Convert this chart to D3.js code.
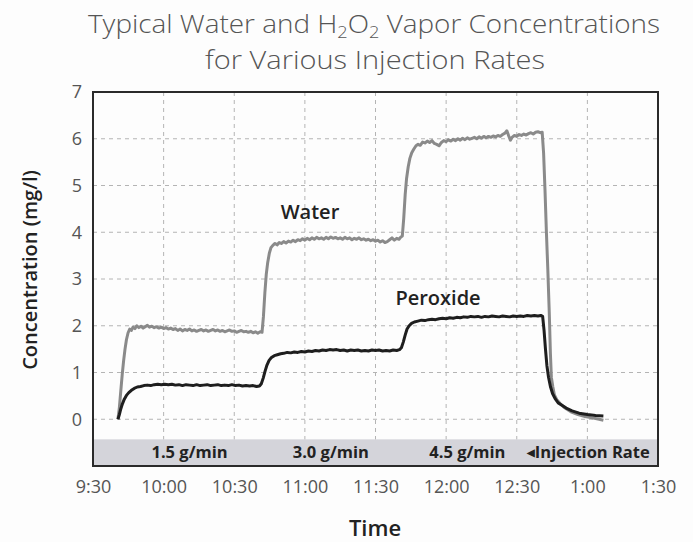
<!DOCTYPE html>
<html>
<head>
<meta charset="utf-8">
<script src="https://cdn.jsdelivr.net/npm/d3@7"></script>
<style>
  body { margin: 0; background: #fdfdfd; }
  svg { display: block; font-family: "Open Sans", sans-serif; }
</style>
</head>
<body>
<svg id="chart" width="693" height="542"></svg>
<script>
// time is minutes after 9:30
var tickLabels = ["9:30", "10:00", "10:30", "11:00", "11:30", "12:00", "12:30", "1:00", "1:30"];
var yTicks = [0, 1, 2, 3, 4, 5, 6, 7];

var waterMin = [10.6, 11.2, 11.8, 12.4, 13.0, 13.6, 14.2, 14.9, 15.6, 16.3, 17.0, 17.8, 18.6, 19.5, 20.4, 21.3, 22.2, 23.1, 24, 25, 26, 27, 28, 29, 30, 31, 32, 33, 34, 35, 36, 37, 38, 39, 40, 41, 42, 43, 44, 45, 46, 47, 48, 49, 50, 51, 52, 53, 54, 55, 56, 57, 58, 59, 60, 61, 62, 63, 64, 65, 66, 67, 68, 69, 70, 71, 71.8,
  72.4, 73.0, 73.6, 74.2, 74.9, 75.6, 76.4, 77.3, 78.2, 79.1, 80, 81, 82, 83, 84, 85, 86, 87, 88, 89, 90, 91, 92, 93, 94, 95, 96, 97, 98, 99, 100, 101, 102, 103, 104, 105, 106, 107, 108, 109, 110, 111, 112, 113, 114, 115, 116, 117, 118, 119, 120, 121, 122, 123, 124, 125, 126, 127, 128, 129, 130, 130.8, 131.4,
  132.0, 132.6, 133.2, 133.9, 134.6, 135.4, 136.3, 137.2, 138.1, 139, 140, 141, 142, 143, 144, 145, 146, 147, 148, 149, 150, 151, 152, 153, 154, 155, 156, 157, 158, 159, 160, 161, 162, 163, 164, 165, 166, 167, 168, 169, 170, 171, 172, 173, 174, 175, 175.8, 176.6, 177.3, 178, 179, 180, 181, 182, 183, 184, 185, 186, 187, 188, 189, 190, 190.8,
  191.4, 192.0, 192.6, 193.2, 193.8, 194.3, 194.7, 195.3, 196.0, 197.0, 198.5, 200.5, 203, 206, 209, 212, 215, 216.8];
var waterVal = [0, 0.25, 0.6, 0.95, 1.25, 1.5, 1.7, 1.85, 1.93, 1.9, 1.97, 1.94, 2.0, 1.96, 1.99, 1.95, 1.98, 2.01, 1.97, 1.99, 1.96, 1.98, 1.95, 1.97, 1.94, 1.96, 1.93, 1.95, 1.92, 1.94, 1.9, 1.93, 1.89, 1.92, 1.9, 1.93, 1.89, 1.91, 1.88, 1.9, 1.92, 1.89, 1.91, 1.88, 1.9, 1.92, 1.89, 1.91, 1.88, 1.9, 1.87, 1.89, 1.91, 1.88, 1.89, 1.86, 1.88, 1.9, 1.87, 1.88, 1.86, 1.88, 1.85, 1.87, 1.84, 1.87, 1.86,
  2.2, 2.7, 3.1, 3.35, 3.55, 3.67, 3.72, 3.76, 3.73, 3.78, 3.76, 3.8, 3.77, 3.81, 3.79, 3.83, 3.8, 3.84, 3.82, 3.86, 3.83, 3.87, 3.84, 3.88, 3.85, 3.89, 3.86, 3.88, 3.85, 3.89, 3.86, 3.9, 3.87, 3.89, 3.86, 3.88, 3.85, 3.89, 3.86, 3.88, 3.84, 3.87, 3.85, 3.88, 3.84, 3.86, 3.83, 3.85, 3.82, 3.84, 3.81, 3.83, 3.79, 3.82, 3.78, 3.8, 3.84, 3.88, 3.83, 3.87, 3.85, 3.9, 3.92,
  4.3, 4.8, 5.15, 5.4, 5.58, 5.7, 5.78, 5.85, 5.88, 5.86, 5.93, 5.91, 5.95, 5.92, 5.96, 5.9, 5.88, 5.85, 5.92, 5.96, 5.94, 5.98, 5.95, 5.99, 5.96, 6.0, 5.97, 6.01, 5.98, 6.02, 5.99, 6.01, 6.03, 6.0, 6.04, 6.01, 6.05, 6.02, 6.05, 6.03, 6.06, 6.04, 6.07, 6.05, 6.09, 6.12, 6.17, 6.06, 5.97, 6.03, 6.07, 6.05, 6.09, 6.07, 6.1, 6.08, 6.11, 6.13, 6.1, 6.14, 6.15, 6.13, 6.14,
  5.7, 4.9, 4.0, 3.2, 2.3, 1.4, 0.9, 0.7, 0.52, 0.42, 0.33, 0.24, 0.16, 0.1, 0.06, 0.03, 0.0, -0.02];

var peroxideMin = [10.6, 11.2, 11.8, 12.5, 13.3, 14.2, 15.2, 16.3, 17.5, 18.8, 20.2, 21.6, 23, 24.5, 26, 27.5, 29, 30.5, 32, 33.5, 35, 36.5, 38, 39.5, 41, 42.5, 44, 45.5, 47, 48.5, 50, 51.5, 53, 54.5, 56, 57.5, 59, 60.5, 62, 63.5, 65, 66.5, 68, 69.5, 70.7,
  71.5, 72.3, 73.1, 73.9, 74.8, 75.8, 77, 78.3, 79.7, 81, 82.5, 84, 85.5, 87, 88.5, 90, 91.5, 93, 94.5, 96, 97.5, 99, 100.5, 102, 103.5, 105, 106.5, 108, 109.5, 111, 112.5, 114, 115.5, 117, 118.5, 120, 121.5, 123, 124.5, 126, 127.5, 129, 130.2,
  131, 131.8, 132.6, 133.4, 134.3, 135.3, 136.5, 138, 139.5, 141, 142.5, 144, 145.5, 147, 148.5, 150, 151.5, 153, 154.5, 156, 157.5, 159, 160.5, 162, 163.5, 165, 166.5, 168, 169.5, 171, 172.5, 174, 175.5, 177, 178.5, 180, 181.5, 183, 184.5, 186, 187.5, 189, 190.2, 191.0,
  191.6, 192.2, 192.8, 193.5, 194.3, 195.2, 196.3, 197.6, 199.2, 201, 203.5, 206.5, 210, 213.5, 216.8];
var peroxideVal = [0, 0.1, 0.22, 0.33, 0.43, 0.51, 0.57, 0.62, 0.66, 0.69, 0.7, 0.72, 0.73, 0.72, 0.74, 0.75, 0.74, 0.75, 0.74, 0.75, 0.73, 0.74, 0.72, 0.74, 0.73, 0.72, 0.74, 0.72, 0.73, 0.74, 0.72, 0.73, 0.74, 0.72, 0.73, 0.72, 0.74, 0.72, 0.73, 0.71, 0.72, 0.71, 0.72, 0.7, 0.71,
  0.76, 0.88, 1.03, 1.16, 1.26, 1.32, 1.36, 1.38, 1.4, 1.41, 1.43, 1.42, 1.44, 1.43, 1.45, 1.44, 1.46, 1.45, 1.47, 1.46, 1.48, 1.47, 1.49, 1.48, 1.49, 1.47, 1.48, 1.46, 1.48, 1.47, 1.48, 1.46, 1.47, 1.46, 1.48, 1.47, 1.48, 1.46, 1.47, 1.46, 1.48, 1.47, 1.49,
  1.53, 1.65, 1.8, 1.93, 2.0, 2.05, 2.08, 2.1, 2.12, 2.11, 2.13, 2.14, 2.13, 2.15, 2.16, 2.15, 2.17, 2.16, 2.18, 2.17, 2.19, 2.18, 2.2, 2.19, 2.2, 2.18, 2.2, 2.19, 2.21, 2.2, 2.19, 2.21, 2.2, 2.19, 2.21, 2.2, 2.21, 2.2, 2.22, 2.21, 2.22, 2.21, 2.22, 2.2,
  1.9, 1.5, 1.15, 0.9, 0.7, 0.55, 0.44, 0.35, 0.3, 0.24, 0.18, 0.13, 0.1, 0.08, 0.07];

var rateLabels = ["1.5 g/min", "3.0 g/min", "4.5 g/min"];
var rateLabelMin = [41, 101, 159];

var dimensions = {
    width: 693,
    height: 542,
    margin: { top: 92, right: 35, bottom: 76, left: 93 }
};

var svg = d3.select("#chart");

var x = d3.scaleLinear()
    .domain([0, 240])
    .range([dimensions.margin.left, dimensions.width - dimensions.margin.right]);

var y = d3.scaleLinear()
    .domain([-1, 7])
    .range([dimensions.height - dimensions.margin.bottom, dimensions.margin.top]);

// title
var title = svg.append("g").attr("fill", "#555").style("font-weight", 300).style("font-size", "26px");
var t1 = title.append("text")
    .attr("x", 374).attr("y", 33)
    .attr("text-anchor", "middle")
    .attr("textLength", 572).attr("lengthAdjust", "spacingAndGlyphs");
t1.append("tspan").text("Typical Water and H");
t1.append("tspan").attr("font-size", "17px").attr("dy", 5).text("2");
t1.append("tspan").attr("dy", -5).text("O");
t1.append("tspan").attr("font-size", "17px").attr("dy", 5).text("2");
t1.append("tspan").attr("dy", -5).text(" Vapor Concentrations");
title.append("text")
    .attr("x", 375).attr("y", 69)
    .attr("text-anchor", "middle")
    .attr("textLength", 340).attr("lengthAdjust", "spacingAndGlyphs")
    .text("for Various Injection Rates");

// injection rate band
svg.append("rect")
    .attr("x", x(0))
    .attr("y", y(-0.43))
    .attr("width", x(240) - x(0))
    .attr("height", y(-1) - y(-0.43))
    .attr("fill", "#d4d4da");

// grid
var gridY = yTicks.filter(d => d < 7);
svg.append("g").selectAll("line")
    .data(gridY)
    .enter()
    .append("line")
    .attr("x1", x(0)).attr("x2", x(240))
    .attr("y1", d => y(d)).attr("y2", d => y(d))
    .attr("stroke", "#b4b4b4")
    .attr("stroke-width", 1)
    .attr("stroke-dasharray", "4,4");

svg.append("g").selectAll("line")
    .data(d3.range(1, tickLabels.length - 1))
    .enter()
    .append("line")
    .attr("x1", i => x(i * 30)).attr("x2", i => x(i * 30))
    .attr("y1", y(7)).attr("y2", y(-0.43))
    .attr("stroke", "#b4b4b4")
    .attr("stroke-width", 1)
    .attr("stroke-dasharray", "4,4");

// series
var line = d3.line()
    .x(d => x(d[0]))
    .y(d => y(d[1]))
    .curve(d3.curveLinear);

svg.append("path")
    .datum(d3.zip(waterMin, waterVal))
    .attr("fill", "none")
    .attr("stroke", "#8a8a8a")
    .attr("stroke-width", 3)
    .attr("stroke-linejoin", "round")
    .attr("d", line);

svg.append("path")
    .datum(d3.zip(peroxideMin, peroxideVal))
    .attr("fill", "none")
    .attr("stroke", "#1e1e1e")
    .attr("stroke-width", 3)
    .attr("stroke-linejoin", "round")
    .attr("d", line);

// frame
svg.append("rect")
    .attr("x", x(0)).attr("y", y(7))
    .attr("width", x(240) - x(0))
    .attr("height", y(-1) - y(7))
    .attr("fill", "none")
    .attr("stroke", "#2a2a2a")
    .attr("stroke-width", 2);

// series labels
svg.append("text")
    .attr("x", 310).attr("y", 219)
    .attr("text-anchor", "middle")
    .attr("fill", "#222")
    .style("font-size", "20px").style("font-weight", 600)
    .text("Water");

svg.append("text")
    .attr("x", 438).attr("y", 305)
    .attr("text-anchor", "middle")
    .attr("fill", "#222")
    .style("font-size", "20px").style("font-weight", 600)
    .text("Peroxide");

// band labels
svg.append("g").selectAll("text")
    .data(rateLabels)
    .enter()
    .append("text")
    .attr("x", (d, i) => x(rateLabelMin[i]))
    .attr("y", 458)
    .attr("text-anchor", "middle")
    .attr("fill", "#222")
    .style("font-size", "16.5px").style("font-weight", 700)
    .text(d => d);

var rateNote = svg.append("text")
    .attr("x", x(236.5)).attr("y", 458)
    .attr("text-anchor", "end")
    .attr("fill", "#222")
    .style("font-size", "16.5px").style("font-weight", 700);
rateNote.append("tspan").attr("font-size", "10px").attr("dy", -2).text("\u25C0");
rateNote.append("tspan").attr("dy", 2).text("Injection Rate");

// axes
var xAxis = d3.axisBottom(x)
    .tickValues(d3.range(0, 241, 30))
    .tickFormat((d, i) => tickLabels[i])
    .tickSize(0)
    .tickPadding(14);
var gx = svg.append("g")
    .attr("transform", `translate(0, ${y(-1)})`)
    .call(xAxis);
gx.select(".domain").remove();
gx.selectAll("text").attr("fill", "#555").style("font-size", "18px").style("font-family", "'Open Sans', sans-serif");

var yAxis = d3.axisLeft(y)
    .tickValues(yTicks)
    .tickSize(0)
    .tickPadding(11);
var gy = svg.append("g")
    .attr("transform", `translate(${x(0)}, 0)`)
    .call(yAxis);
gy.select(".domain").remove();
gy.selectAll("text").attr("fill", "#555").style("font-size", "18px").style("font-family", "'Open Sans', sans-serif");

// axis titles
svg.append("text")
    .attr("x", 375).attr("y", 536)
    .attr("text-anchor", "middle")
    .attr("fill", "#222")
    .style("font-size", "22px").style("font-weight", 600)
    .text("Time");

svg.append("text")
    .attr("transform", "translate(37, 270) rotate(-90)")
    .attr("text-anchor", "middle")
    .attr("fill", "#222")
    .style("font-size", "20px").style("font-weight", 600)
    .text("Concentration (mg/l)");
</script>
</body>
</html>
